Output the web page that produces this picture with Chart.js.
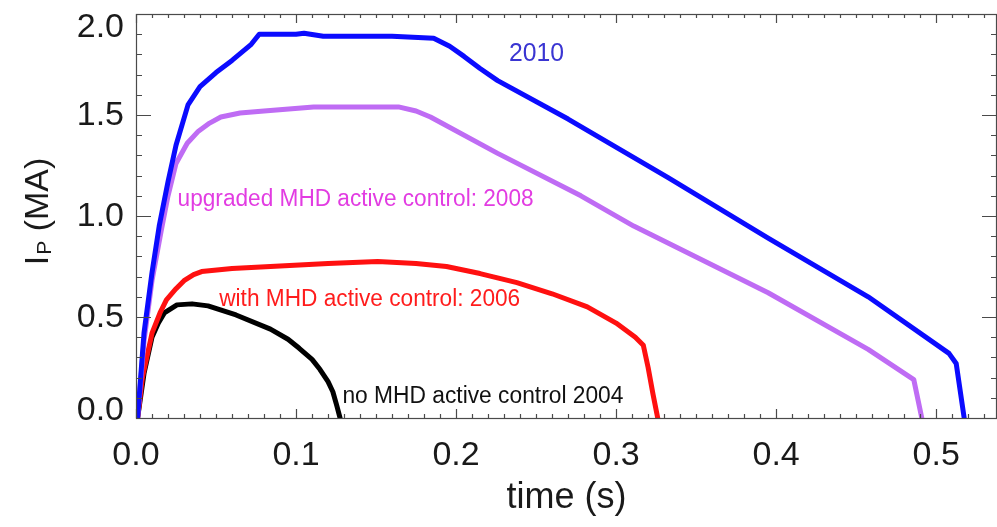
<!DOCTYPE html>
<html>
<head>
<meta charset="utf-8">
<script src="https://cdn.jsdelivr.net/npm/chart.js@4"></script>
<style>
  html, body { margin: 0; padding: 0; background: #fff; }
  #wrap { width: 997px; height: 527px; }
</style>
</head>
<body>
<div id="wrap"><canvas id="myChart" width="997" height="527"></canvas></div>
<script>
// plasma current traces, time (s) vs Ip (MA)
const t2010 = [0.001, 0.005, 0.01, 0.0145, 0.02, 0.025, 0.0325, 0.04, 0.05, 0.06, 0.072, 0.077, 0.1, 0.105, 0.117, 0.13, 0.16, 0.186, 0.196, 0.205, 0.215, 0.226, 0.27, 0.3325, 0.395, 0.4575, 0.508, 0.5125, 0.5175];
const ip2010 = [0, 0.42, 0.72, 0.95, 1.17, 1.35, 1.55, 1.64, 1.71, 1.77, 1.85, 1.9, 1.9, 1.905, 1.89, 1.89, 1.89, 1.88, 1.84, 1.79, 1.73, 1.67, 1.48, 1.19, 0.89, 0.6, 0.32, 0.27, 0];

const t2008 = [0.001, 0.005, 0.01, 0.0156, 0.02, 0.025, 0.032, 0.039, 0.046, 0.053, 0.065, 0.08, 0.111, 0.164, 0.175, 0.184, 0.226, 0.278, 0.311, 0.395, 0.4575, 0.486, 0.491];
const ip2008 = [0, 0.38, 0.68, 0.92, 1.1, 1.26, 1.36, 1.42, 1.46, 1.49, 1.51, 1.52, 1.54, 1.54, 1.52, 1.49, 1.31, 1.1, 0.95, 0.62, 0.34, 0.19, 0];

const t2006 = [0.001, 0.004, 0.01, 0.015, 0.019, 0.025, 0.03, 0.036, 0.041, 0.06, 0.084, 0.12, 0.151, 0.175, 0.194, 0.215, 0.238, 0.26, 0.282, 0.3, 0.312, 0.317, 0.32, 0.323, 0.326];
const ip2006 = [0, 0.2, 0.42, 0.52, 0.585, 0.64, 0.68, 0.71, 0.725, 0.74, 0.75, 0.765, 0.775, 0.765, 0.75, 0.715, 0.67, 0.615, 0.55, 0.47, 0.4, 0.36, 0.25, 0.12, 0];

const t2004 = [0.001, 0.005, 0.01, 0.014, 0.0177, 0.0256, 0.035, 0.045, 0.0625, 0.084, 0.095, 0.102, 0.11, 0.115, 0.12, 0.123, 0.1255, 0.1275];
const ip2004 = [0, 0.22, 0.4, 0.47, 0.52, 0.56, 0.565, 0.555, 0.51, 0.44, 0.39, 0.345, 0.29, 0.24, 0.18, 0.13, 0.06, 0];

const xTickLabels = ['0.0', '0.1', '0.2', '0.3', '0.4', '0.5'];
const yTickLabels = ['0.0', '0.5', '1.0', '1.5', '2.0'];

// curve annotations: [text, t, Ip, color, font px, width]
const notes = [
  ['2010', 0.233, 1.80, '#3a35d2', 25, 55],
  ['upgraded MHD active control: 2008', 0.026, 1.08, '#e23ce2', 23, 356],
  ['with MHD active control: 2006', 0.052, 0.585, '#ff1c1c', 23, 301],
  ['no MHD active control 2004', 0.129, 0.104, '#111111', 23, 281]
];

const pts = (ts, vs) => ts.map((t, i) => ({ x: t, y: vs[i] }));

const FONT = '"Liberation Sans", Arial, Helvetica, sans-serif';

const frame = {
  id: 'frame',
  afterDraw(chart) {
    const ctx = chart.ctx;
    const a = chart.chartArea;
    const xs = chart.scales.x, ys = chart.scales.y;
    ctx.save();
    ctx.strokeStyle = '#4a4a4a';
    ctx.lineWidth = 1.2;
    ctx.strokeRect(a.left + 0.5, a.top + 0.5, a.right - a.left - 1, a.bottom - a.top);

    // x ticks every 0.01, major every 0.1, inward on top and bottom
    ctx.beginPath();
    for (let i = 0; i * 0.01 <= xs.max + 1e-9; i++) {
      const px = Math.round(xs.getPixelForValue(i * 0.01)) + 0.5;
      const len = i % 10 === 0 ? 9 : 4;
      ctx.moveTo(px, a.bottom); ctx.lineTo(px, a.bottom - len);
      ctx.moveTo(px, a.top); ctx.lineTo(px, a.top + len);
    }
    // y ticks every 0.1, major every 0.5, inward left and right
    for (let i = 0; i <= 20; i++) {
      const py = Math.round(ys.getPixelForValue(i * 0.1)) + 0.5;
      const len = i % 5 === 0 ? 15 : 6;
      ctx.moveTo(a.left, py); ctx.lineTo(a.left + len, py);
      ctx.moveTo(a.right, py); ctx.lineTo(a.right - len, py);
    }
    ctx.stroke();

    // tick labels
    ctx.fillStyle = '#1a1a1a';
    ctx.font = '34px ' + FONT;
    ctx.textAlign = 'center';
    ctx.textBaseline = 'middle';
    xTickLabels.forEach(l => {
      ctx.fillText(l, xs.getPixelForValue(parseFloat(l)), a.bottom + 38);
    });
    ctx.textAlign = 'right';
    yTickLabels.forEach(l => {
      let py = ys.getPixelForValue(parseFloat(l));
      py = Math.min(Math.max(py, a.top + 13), a.bottom - 8);
      ctx.fillText(l, a.left - 12, py + 1);
    });

    // axis titles
    ctx.textAlign = 'center';
    ctx.font = '36px ' + FONT;
    ctx.fillText('time (s)', (a.left + a.right) / 2, 498);

    ctx.save();
    ctx.translate(48, 212);
    ctx.rotate(-Math.PI / 2);
    ctx.textAlign = 'left';
    ctx.textBaseline = 'alphabetic';
    ctx.font = '34px ' + FONT;
    const wI = ctx.measureText('I').width;
    ctx.font = '21px ' + FONT;
    const wP = ctx.measureText('P').width;
    ctx.font = '34px ' + FONT;
    const wRest = ctx.measureText(' (MA)').width;
    let x0 = -(wI + wP + wRest) / 2;
    ctx.fillText('I', x0, 0);
    ctx.font = '21px ' + FONT;
    ctx.fillText('P', x0 + wI + 1, 3);
    ctx.font = '34px ' + FONT;
    ctx.fillText(' (MA)', x0 + wI + wP + 1, 0);
    ctx.restore();

    // curve labels
    ctx.textAlign = 'left';
    ctx.textBaseline = 'middle';
    notes.forEach(([txt, t, v, col, size, w]) => {
      ctx.font = size + 'px ' + FONT;
      ctx.fillStyle = col;
      ctx.fillText(txt, xs.getPixelForValue(t), ys.getPixelForValue(v), w);
    });
    ctx.restore();
  }
};

const ctx = document.getElementById('myChart');

new Chart(ctx, {
  type: 'scatter',
  data: {
    datasets: [
      { label: '2010', data: pts(t2010, ip2010), borderColor: '#0b0bff' },
      { label: '2008', data: pts(t2008, ip2008), borderColor: '#bf6cf4' },
      { label: '2006', data: pts(t2006, ip2006), borderColor: '#ff1010' },
      { label: '2004', data: pts(t2004, ip2004), borderColor: '#000000' }
    ].map(d => Object.assign(d, {
      showLine: true,
      pointRadius: 0,
      borderWidth: 5,
      tension: 0,
      borderCapStyle: 'round',
      borderJoinStyle: 'round'
    }))
  },
  options: {
    responsive: false,
    animation: false,
    events: [],
    layout: {
      padding: { top: 14, right: 0, bottom: 0, left: 0 }
    },
    scales: {
      x: {
        type: 'linear',
        min: 0,
        max: 0.538,
        ticks: { display: false, stepSize: 0.1, includeBounds: false },
        grid: { display: false },
        border: { display: false },
        afterFit: s => { s.height = 109; }
      },
      y: {
        type: 'linear',
        min: 0,
        max: 2,
        ticks: { display: false, stepSize: 0.5 },
        grid: { display: false },
        border: { display: false },
        afterFit: s => { s.width = 136; }
      }
    },
    plugins: {
      legend: { display: false },
      tooltip: { enabled: false }
    }
  },
  plugins: [frame]
});
</script>
</body>
</html>
